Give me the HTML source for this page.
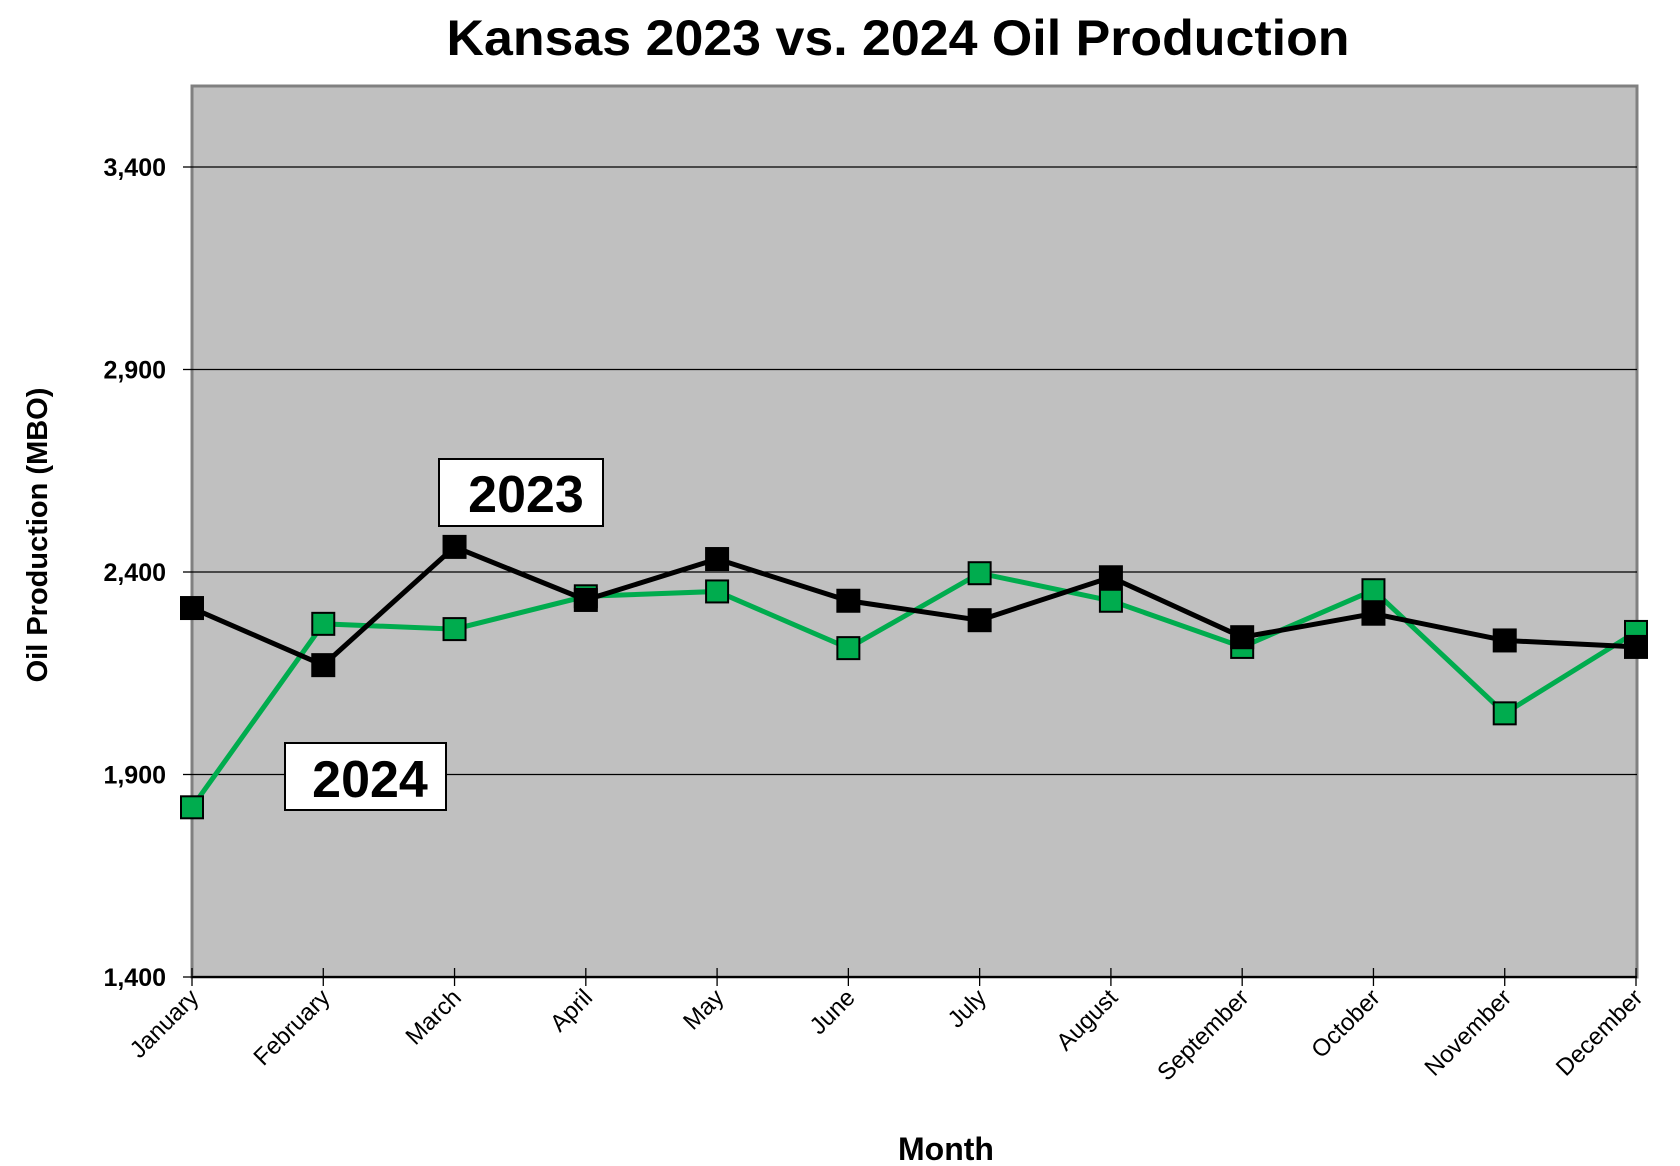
<!DOCTYPE html>
<html><head><meta charset="utf-8"><style>
html,body{margin:0;padding:0;background:#fff;}
svg{display:block;font-family:"Liberation Sans",Arial,sans-serif;}
</style></head><body>
<svg id="chart" width="1680" height="1166" viewBox="0 0 1680 1166">
<text x="898" y="55" text-anchor="middle" font-size="50" font-weight="bold" textLength="903" lengthAdjust="spacingAndGlyphs">Kansas 2023 vs. 2024 Oil Production</text>
<rect x="192" y="86" width="1445" height="891" fill="#c0c0c0" stroke="#808080" stroke-width="3"/>
<g id="grid"></g>
<g id="axes"></g>
<g id="series"></g>
<text transform="translate(47,535) rotate(-90)" text-anchor="middle" font-size="29" font-weight="bold">Oil Production (MBO)</text>
<text x="946" y="1160" text-anchor="middle" font-size="32" font-weight="bold">Month</text>
<g>
<rect x="439" y="459" width="164" height="67" fill="#fff" stroke="#000" stroke-width="2"/>
<text x="526" y="512" text-anchor="middle" font-size="52" font-weight="bold">2023</text>
</g>
<g>
<rect x="285" y="743" width="161" height="67" fill="#fff" stroke="#000" stroke-width="2"/>
<text x="370" y="797" text-anchor="middle" font-size="52" font-weight="bold">2024</text>
</g>
</svg>
<script>
const months = ["January","February","March","April","May","June","July","August","September","October","November","December"];
const yTicks = [1400,1900,2400,2900,3400];
const tickLabels = ["1,400","1,900","2,400","2,900","3,400"];
const series2023 = [2311,2170,2462,2331,2432,2329,2281,2387,2239,2297,2231,2215];
const series2024 = [1819,2272,2259,2340,2352,2212,2397,2329,2215,2355,2051,2252];
const NS = "http://www.w3.org/2000/svg";
const X0 = 192, X1 = 1636, YMIN = 1400, YMAX = 3600, YB = 977, YT = 86;
function xScale(i){ return X0 + i * (X1 - X0) / (months.length - 1); }
function yScale(v){ return YB - (v - YMIN) / (YMAX - YMIN) * (YB - YT); }
function mk(tag, attrs, parent){ const e = document.createElementNS(NS, tag); for (const k in attrs) e.setAttribute(k, attrs[k]); parent.appendChild(e); return e; }
const grid = document.getElementById('grid');
const axes = document.getElementById('axes');
const ser = document.getElementById('series');
yTicks.forEach((t, i) => {
  const y = yScale(t);
  if (i > 0) {
    const g = mk('line', {x1: X0, x2: 1637, y1: y, y2: y, stroke: '#000', 'stroke-width': 1.3}, grid);
    
    
  }
  mk('line', {x1: X0 - 9, x2: X0, y1: y, y2: y, stroke: '#000', 'stroke-width': 1.3}, axes);
  const tx = mk('text', {x: 166, y: y + 9, 'text-anchor': 'end', 'font-size': 25, 'font-weight': 'bold'}, axes);
  tx.textContent = tickLabels[i];
  
  
});
mk('line', {x1: X0, x2: 1637, y1: YB, y2: YB, stroke: '#000', 'stroke-width': 2}, axes);
months.forEach((m, i) => {
  const x = xScale(i);
  mk('line', {x1: x, x2: x, y1: YB - 9, y2: YB + 9, stroke: '#000', 'stroke-width': 1.3}, axes);
  const tx = mk('text', {x: 0, y: 0, 'text-anchor': 'end', 'font-size': 24, transform: 'translate(' + (x + 8) + ',' + (YB + 22) + ') rotate(-45)'}, axes);
  tx.textContent = m;
  
  
});
function drawSeries(vals, color, lw, name){
  const pts = vals.map((v, i) => xScale(i) + ',' + yScale(v)).join(' ');
  const pl = mk('polyline', {points: pts, fill: 'none', stroke: color, 'stroke-width': lw, 'stroke-linejoin': 'miter'}, ser);
  
  
  vals.forEach((v, i) => {
    const r = mk('rect', {x: xScale(i) - 11, y: yScale(v) - 11, width: 22, height: 22, fill: color, stroke: '#000', 'stroke-width': 2}, ser);
    
    
  });
}
drawSeries(series2024, '#00ac4e', 5, 'series-2024');
drawSeries(series2023, '#000000', 5, 'series-2023');
</script>
</body></html>
